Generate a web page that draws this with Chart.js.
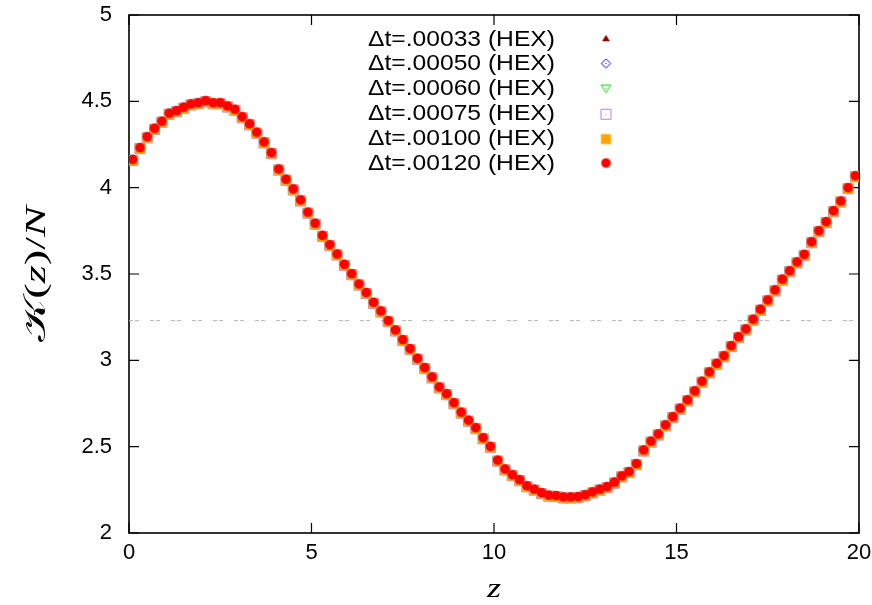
<!DOCTYPE html>
<html>
<head>
<meta charset="utf-8">
<script src="https://cdn.jsdelivr.net/npm/chart.js@4.4.0/dist/chart.umd.min.js"></script>
<style>
  html, body { margin: 0; padding: 0; background: #fff; }
</style>
</head>
<body>
<canvas id="kChart" width="872" height="605"></canvas>
<script>
// bin centres along z
const zBins = [
  0.1, 0.3, 0.5, 0.7, 0.9, 1.1, 1.3, 1.5, 1.7, 1.9,
  2.1, 2.3, 2.5, 2.7, 2.9, 3.1, 3.3, 3.5, 3.7, 3.9,
  4.1, 4.3, 4.5, 4.7, 4.9, 5.1, 5.3, 5.5, 5.7, 5.9,
  6.1, 6.3, 6.5, 6.7, 6.9, 7.1, 7.3, 7.5, 7.7, 7.9,
  8.1, 8.3, 8.5, 8.7, 8.9, 9.1, 9.3, 9.5, 9.7, 9.9,
  10.1, 10.3, 10.5, 10.7, 10.9, 11.1, 11.3, 11.5, 11.7, 11.9,
  12.1, 12.3, 12.5, 12.7, 12.9, 13.1, 13.3, 13.5, 13.7, 13.9,
  14.1, 14.3, 14.5, 14.7, 14.9, 15.1, 15.3, 15.5, 15.7, 15.9,
  16.1, 16.3, 16.5, 16.7, 16.9, 17.1, 17.3, 17.5, 17.7, 17.9,
  18.1, 18.3, 18.5, 18.7, 18.9, 19.1, 19.3, 19.5, 19.7, 19.9
];

// K(z)/N -- the six time steps lie on top of each other within a marker size
const kHex = [
  4.164, 4.232, 4.295, 4.344, 4.385, 4.431, 4.446, 4.466, 4.485, 4.492,
  4.504, 4.492, 4.492, 4.473, 4.454, 4.411, 4.370, 4.321, 4.265, 4.203,
  4.108, 4.049, 3.993, 3.929, 3.858, 3.794, 3.724, 3.670, 3.616, 3.556,
  3.502, 3.442, 3.393, 3.336, 3.286, 3.230, 3.176, 3.120, 3.068, 3.012,
  2.958, 2.904, 2.846, 2.807, 2.755, 2.700, 2.653, 2.610, 2.552, 2.502,
  2.422, 2.371, 2.338, 2.309, 2.274, 2.254, 2.234, 2.219, 2.217, 2.209,
  2.209, 2.211, 2.222, 2.238, 2.254, 2.269, 2.295, 2.331, 2.356, 2.402,
  2.481, 2.532, 2.574, 2.626, 2.674, 2.723, 2.771, 2.823, 2.879, 2.933,
  2.983, 3.027, 3.085, 3.137, 3.182, 3.238, 3.296, 3.350, 3.408, 3.470,
  3.519, 3.570, 3.614, 3.687, 3.751, 3.803, 3.867, 3.923, 4.000, 4.069
];

const seriesLabels = [
  'Δt=.00033 (HEX)', 'Δt=.00050 (HEX)', 'Δt=.00060 (HEX)',
  'Δt=.00075 (HEX)', 'Δt=.00100 (HEX)', 'Δt=.00120 (HEX)'
];
const refLevel = 3.23;
const xTicks = [0, 5, 10, 15, 20];
const yTicks = [2, 2.5, 3, 3.5, 4, 4.5, 5];

// gnuplot-like point glyphs drawn on small canvases
function marker(kind, color) {
  const c = document.createElement('canvas');
  c.width = 15; c.height = 15;
  const g = c.getContext('2d');
  g.fillStyle = color;
  g.strokeStyle = color;
  g.lineWidth = 1;
  const m = 7.5;
  g.beginPath();
  if (kind === 'tri') {
    g.moveTo(m, m - 3.8); g.lineTo(m + 3.9, m + 2.8); g.lineTo(m - 3.9, m + 2.8);
    g.closePath(); g.fill();
  } else if (kind === 'diamond') {
    g.moveTo(m, m - 4.6); g.lineTo(m + 4.6, m); g.lineTo(m, m + 4.6); g.lineTo(m - 4.6, m);
    g.closePath(); g.stroke();
    g.fillRect(m - 0.5, m - 0.5, 1, 1);
  } else if (kind === 'dtri') {
    g.moveTo(m - 4.8, m - 3.3); g.lineTo(m + 4.8, m - 3.3); g.lineTo(m, m + 4.4);
    g.closePath(); g.stroke();
    g.fillRect(m - 0.5, m - 0.5, 1, 1);
  } else if (kind === 'osq') {
    g.rect(m - 5, m - 4, 10, 10); g.stroke();
    g.fillRect(m - 0.5, m + 0.5, 1, 1);
  } else if (kind === 'sq') {
    g.fillRect(m - 5, m - 4, 10, 10);
  } else {
    g.arc(m, m, 4.8, 0, Math.PI * 2); g.fill();
  }
  return c;
}

const colors = ['#8b0000', '#0000ff', '#00dd00', '#b07cff', '#ffa500', '#ff0000'];
const kinds = ['tri', 'diamond', 'dtri', 'osq', 'sq', 'dot'];
const glyphs = kinds.map((k, i) => marker(k, colors[i]));

const datasets = seriesLabels.map((lab, i) => ({
  label: lab,
  data: zBins.map((z, j) => ({ x: z, y: kHex[j] })),
  pointStyle: glyphs[i],
  pointRadius: 5,
  showLine: false,
  order: 6 - i
}));
datasets.push({
  label: 'ref',
  data: [{ x: 0, y: refLevel }, { x: 20, y: refLevel }],
  showLine: true,
  borderColor: '#b4b4b4',
  borderWidth: 1,
  borderDash: [4, 2, 4, 11],
  pointRadius: 0,
  order: 10
});

const serif = '"Liberation Serif", "DejaVu Serif", serif';

// draws a run of differently styled pieces, stretched to a given length
function drawPieces(ctx, pieces, size, len) {
  const w = pieces.map(p => { ctx.font = p[1] + ' ' + size + 'px ' + serif; return ctx.measureText(p[0]).width; });
  const total = w.reduce((a, b) => a + b, 0);
  ctx.scale(len / total, 1);
  let cx = -total / 2;
  pieces.forEach((p, i) => {
    ctx.font = p[1] + ' ' + size + 'px ' + serif;
    ctx.fillText(p[0], cx, 0);
    cx += w[i];
  });
}

// border box with inward ticks, key, axis titles
const framePlugin = {
  id: 'frame',
  beforeDatasetsDraw(chart) {
    const { ctx, chartArea: a, scales: { x, y } } = chart;
    ctx.save();
    ctx.strokeStyle = '#000';
    ctx.lineWidth = 1.6;
    ctx.strokeRect(a.left, a.top, a.right - a.left, a.bottom - a.top);
    ctx.lineWidth = 1.2;
    ctx.beginPath();
    xTicks.forEach(v => {
      const px = x.getPixelForValue(v);
      ctx.moveTo(px, a.bottom); ctx.lineTo(px, a.bottom - 10);
      ctx.moveTo(px, a.top); ctx.lineTo(px, a.top + 10);
    });
    yTicks.forEach(v => {
      const py = y.getPixelForValue(v);
      ctx.moveTo(a.left, py); ctx.lineTo(a.left + 10, py);
      ctx.moveTo(a.right, py); ctx.lineTo(a.right - 10, py);
    });
    ctx.stroke();

    // axis titles
    ctx.fillStyle = '#000';
    ctx.textBaseline = 'alphabetic';
    ctx.textAlign = 'left';
    ctx.save();
    ctx.translate((a.left + a.right) / 2, 597);
    drawPieces(ctx, [['z', 'italic']], 28, 14);
    ctx.restore();
    ctx.save();
    ctx.translate(45, (a.top + a.bottom) / 2);
    ctx.rotate(-Math.PI / 2);
    drawPieces(ctx, [['𝒦', 'normal'], ['(', 'normal'], ['z', 'italic'], [')', 'normal'], ['/', 'normal'], ['N', 'italic']], 30, 136);
    ctx.restore();
    ctx.restore();
  },
  afterDatasetsDraw(chart) {
    const { ctx } = chart;
    ctx.save();
    ctx.font = '22px "Liberation Sans", Arial, sans-serif';
    ctx.fillStyle = '#000';
    ctx.textAlign = 'right';
    ctx.textBaseline = 'middle';
    const sx = 187 / ctx.measureText(seriesLabels[0]).width;
    seriesLabels.forEach((lab, i) => {
      const ry = 38.5 + i * 24.9;
      ctx.save();
      ctx.translate(555, ry + 1);
      ctx.scale(sx, 1);
      ctx.fillText(lab, 0, 0);
      ctx.restore();
      const gl = glyphs[i];
      ctx.drawImage(gl, 606 - gl.width / 2, ry - gl.height / 2);
    });
    ctx.restore();
  }
};

const tickFont = { family: '"Liberation Sans", Arial, sans-serif', size: 22 };

new Chart(document.getElementById('kChart'), {
  type: 'scatter',
  data: { datasets: datasets },
  options: {
    responsive: false,
    animation: false,
    layout: { padding: { top: 15, right: 13, bottom: 0, left: 0 } },
    plugins: { legend: { display: false }, tooltip: { enabled: false } },
    scales: {
      x: {
        type: 'linear', min: 0, max: 20,
        grid: { display: false, drawTicks: false },
        border: { display: false },
        afterBuildTicks: s => { s.ticks = xTicks.map(v => ({ value: v })); },
        afterFit: s => { s.height = 72; s.paddingLeft = 0; s.paddingRight = 0; },
        ticks: { color: '#000', font: tickFont, padding: 7, maxRotation: 0, callback: v => v }
      },
      y: {
        type: 'linear', min: 2, max: 5,
        grid: { display: false, drawTicks: false },
        border: { display: false },
        afterBuildTicks: s => { s.ticks = yTicks.map(v => ({ value: v })); },
        afterFit: s => { s.width = 129; s.paddingTop = 0; s.paddingBottom = 0; },
        ticks: { color: '#000', font: tickFont, padding: 17, callback: v => v }
      }
    }
  },
  plugins: [framePlugin]
});
</script>
</body>
</html>
